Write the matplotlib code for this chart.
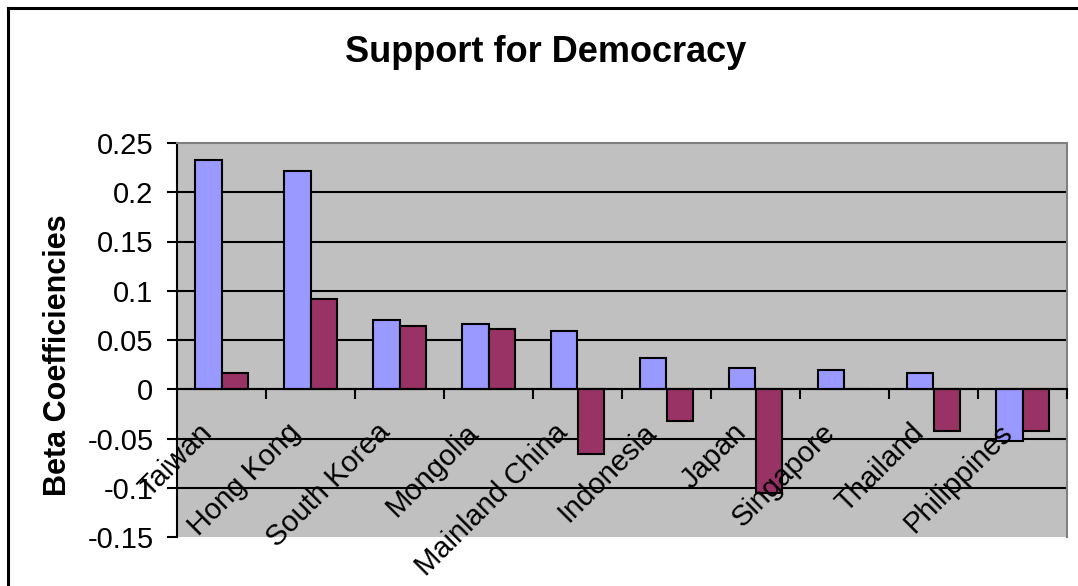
import matplotlib
matplotlib.use("Agg")
import matplotlib.pyplot as plt
from matplotlib.lines import Line2D
from matplotlib.transforms import ScaledTranslation
import numpy as np

plt.rcParams["font.family"] = ["Liberation Sans", "DejaVu Sans"]

countries = ["Taiwan", "Hong Kong", "South Korea", "Mongolia", "Mainland China",
             "Indonesia", "Japan", "Singapore", "Thailand", "Philippines"]
beta_blue = [0.233, 0.222, 0.070, 0.066, 0.059, 0.032, 0.022, 0.020, 0.016, -0.053]
beta_red = [0.016, 0.092, 0.064, 0.061, -0.066, -0.032, -0.105, 0.0, -0.042, -0.042]
yticks = [-0.15, -0.1, -0.05, 0, 0.05, 0.1, 0.15, 0.2, 0.25]
ytick_labels = ["-0.15", "-0.1", "-0.05", "0", "0.05", "0.1", "0.15", "0.2", "0.25"]

fig = plt.figure(figsize=(10.78, 5.86), dpi=100)
ax = fig.add_axes([177 / 1078, 1 - 537 / 586, 890 / 1078, 394 / 586])
ax.set_facecolor("#C0C0C0")

x = np.arange(len(countries))
w = 0.3
ax.bar(x - w / 2, beta_blue, w, color="#9999FF", edgecolor="black", linewidth=1.5, zorder=3)
ax.bar(x + w / 2, beta_red, w, color="#993366", edgecolor="black", linewidth=1.5, zorder=3)

ax.set_xlim(-0.5, len(countries) - 0.5)
ax.set_ylim(-0.15, 0.25)
ax.set_yticks(yticks, ytick_labels, fontsize=21)
for yv in yticks[1:-1]:
    ax.axhline(yv, color="black", lw=1.5, zorder=1)

ax.spines["bottom"].set_position(("data", 0))
ax.spines["bottom"].set_zorder(4)
ax.spines["bottom"].set_linewidth(1.5)
ax.spines["left"].set_linewidth(1.5)
ax.spines["top"].set_color("#808080")
ax.spines["right"].set_color("#808080")
ax.spines["top"].set_linewidth(1.5)
ax.spines["right"].set_linewidth(1.5)

ax.set_xticks(x)
ax.set_xticklabels(countries, rotation=45, ha="right", va="top",
                   rotation_mode="anchor", fontsize=21)
ax.set_xticks(np.arange(len(countries)) + 0.5, minor=True)
ax.tick_params(axis="x", which="major", length=0, pad=8)
ax.tick_params(axis="x", which="minor", length=7, width=1.5, direction="out")
ax.tick_params(axis="y", length=7, width=1.5, pad=10)
ax.xaxis.set_zorder(5)
shift = ScaledTranslation(-24 / 100, -18 / 100, fig.dpi_scale_trans)
for lab in ax.get_xticklabels():
    lab.set_transform(lab.get_transform() + shift)

fig.text(546 / 1078, 1 - 52 / 586, "Support for Democracy", ha="center", va="center",
         fontsize=26, fontweight="bold")
fig.text(58 / 1078, 1 - 355 / 586, "Beta Coefficiencies", ha="center", va="center",
         rotation=90, fontsize=22, fontweight="bold")

# chart frame (only left and top edges are inside the picture)
fig.add_artist(Line2D([7.5 / 1078, 7.5 / 1078], [0, 1 - 7.5 / 586], color="black", lw=2.2,
                      transform=fig.transFigure))
fig.add_artist(Line2D([7.5 / 1078, 1], [1 - 7.5 / 586, 1 - 7.5 / 586], color="black", lw=2.2,
                      transform=fig.transFigure))

fig.savefig("out.png", dpi=100)
